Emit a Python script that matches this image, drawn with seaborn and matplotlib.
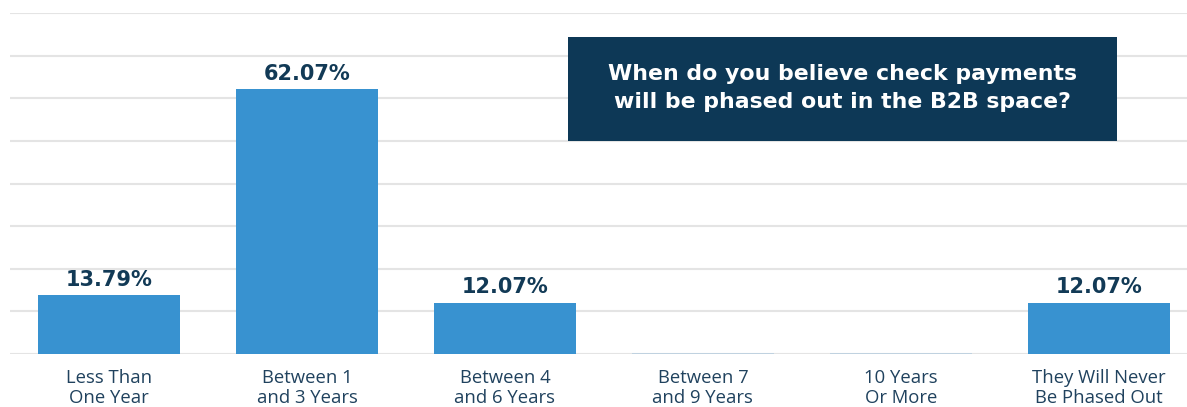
import matplotlib
matplotlib.use("Agg")
import matplotlib.pyplot as plt
import seaborn as sns
import pandas as pd

categories = ["Less Than\nOne Year", "Between 1\nand 3 Years", "Between 4\nand 6 Years",
              "Between 7\nand 9 Years", "10 Years\nOr More", "They Will Never\nBe Phased Out"]
values = [13.79, 62.07, 12.07, 0.0, 0.0, 12.07]
value_labels = ["13.79%", "62.07%", "12.07%", "", "", "12.07%"]
title = "When do you believe check payments\nwill be phased out in the B2B space?"

sns.set_theme(style="white")
plt.rcParams['font.family'] = ['Open Sans', 'DejaVu Sans']

W, H = 1187, 407
fig = plt.figure(figsize=(W / 100, H / 100), dpi=100)
ax = fig.add_axes([10 / W, 53 / H, (W - 10) / W, (354 - 13) / H])

df = pd.DataFrame({"cat": categories, "val": values})
sns.barplot(data=df, x="cat", y="val", color="#3892d0", saturation=1, width=0.72, ax=ax, zorder=3)

for p, v in zip(ax.patches, values):
    if v == 0:
        p.set_edgecolor("#b9cfe0")
        p.set_linewidth(1.2)
    else:
        p.set_edgecolor("none")

ax.set_ylim(0, 80)
ax.set_xlim(-0.5, 5.445)
ax.set_yticks(range(0, 81, 10))
ax.yaxis.grid(True, color="#e4e4e4", linewidth=1.5, zorder=0)
ax.set_axisbelow(True)
ax.tick_params(axis="y", left=False, labelleft=False)
ax.tick_params(axis="x", bottom=False, pad=5, labelsize=13.3, colors="#20425e")
for s in ax.spines.values():
    s.set_visible(False)
ax.set_xlabel("")
ax.set_ylabel("")
for lbl in ax.get_xticklabels():
    lbl.set_linespacing(1.1)

for i, (v, t) in enumerate(zip(values, value_labels)):
    if t:
        ax.text(i, v + 1.3, t, ha="center", va="bottom", fontsize=15,
                fontweight="bold", color="#123a56", family="DejaVu Sans")

# title box
fig.patches.append(plt.Rectangle((568 / W, 1 - 141 / H), (1117 - 568) / W, (141 - 37) / H,
                                 transform=fig.transFigure, facecolor="#0d3856",
                                 edgecolor="none", zorder=5))
fig.text(842 / W, 1 - 88 / H, title, ha="center", va="center", fontsize=15.8,
         fontweight="bold", color="white", linespacing=1.45, zorder=6, family="DejaVu Sans")

fig.savefig("out.png", dpi=100, facecolor="white")
